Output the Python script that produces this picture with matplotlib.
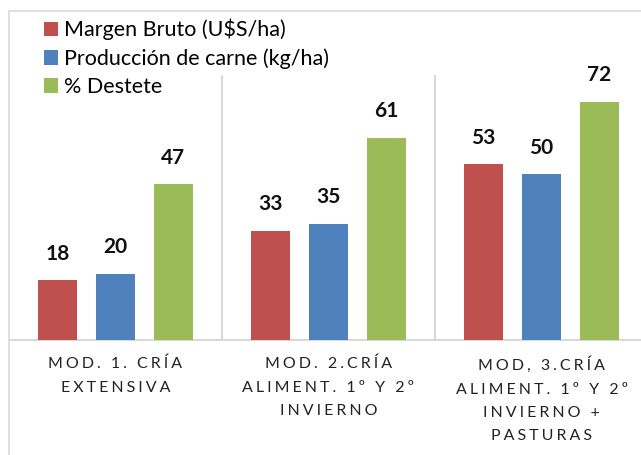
import matplotlib
matplotlib.use("Agg")
import matplotlib.pyplot as plt
from matplotlib.patches import Rectangle
import numpy as np

# ==============================================================
#  DATA
# ==============================================================
categories = [
    "MOD. 1. CRÍA\nEXTENSIVA",
    "MOD. 2.CRÍA\nALIMENT. 1º Y 2º\nINVIERNO",
    "MOD, 3.CRÍA\nALIMENT. 1º Y 2º\nINVIERNO +\nPASTURAS",
]
series_names = ["Margen Bruto (U$S/ha)", "Producción de carne (kg/ha)", "% Destete"]
margen = [18, 33, 53]
carne = [20, 35, 50]
destete = [47, 61, 72]

COLORS = ["#C0504D", "#4F81BD", "#9BBB59"]
GRID = "#d9d9d9"

plt.rcParams["font.family"] = ["Lato", "DejaVu Sans"]


def spaced(label):
    # Excel-style expanded character spacing
    return "\n".join("\u2009\u200a".join(line) for line in label.split("\n"))


# ==============================================================
#  LAYOUT
# ==============================================================
fig = plt.figure(figsize=(6.41, 4.55), dpi=100, facecolor="white")
ax = fig.add_axes([9 / 641, 1 - 340 / 455, 639 / 641, 265 / 455])

x = np.arange(len(categories))
width = 0.183
step = 0.272
series = [margen, carne, destete]
for i, (vals, name) in enumerate(zip(series, series_names)):
    b = ax.bar(x + (i - 1) * step, vals, width, color=COLORS[i], label=name, zorder=3)
    ax.bar_label(b, padding=12, fontsize=15, fontweight="bold", color="#111111")

for sep in (0.5, 1.5):
    ax.axvline(sep, color=GRID, linewidth=1.5, zorder=1)

ax.set_xlim(-0.5, 2.5)
ax.set_ylim(0, 80)
ax.set_yticks([])
ax.set_xticks(x)
ax.set_xticklabels([spaced(c) for c in categories], fontsize=11.5,
                   color="#222222", linespacing=1.85)
ax.tick_params(axis="x", length=0, pad=12)
for side in ("top", "left", "right"):
    ax.spines[side].set_visible(False)
ax.spines["bottom"].set_color(GRID)
ax.spines["bottom"].set_linewidth(1.5)

# outer chart border
fig.add_artist(Rectangle((8.5 / 641, -0.1), 2, 1.1 - 11 / 455,
                         transform=fig.transFigure, fill=False,
                         edgecolor=GRID, linewidth=1.2))

ax.legend(loc="upper left", bbox_to_anchor=(33 / 641, 1 - 8 / 455),
          bbox_transform=fig.transFigure, frameon=False,
          fontsize=15.5, handlelength=0.65, handleheight=0.65,
          handletextpad=0.3, labelspacing=0.38, borderpad=0)

fig.savefig("out.png", dpi=100, facecolor="white")
